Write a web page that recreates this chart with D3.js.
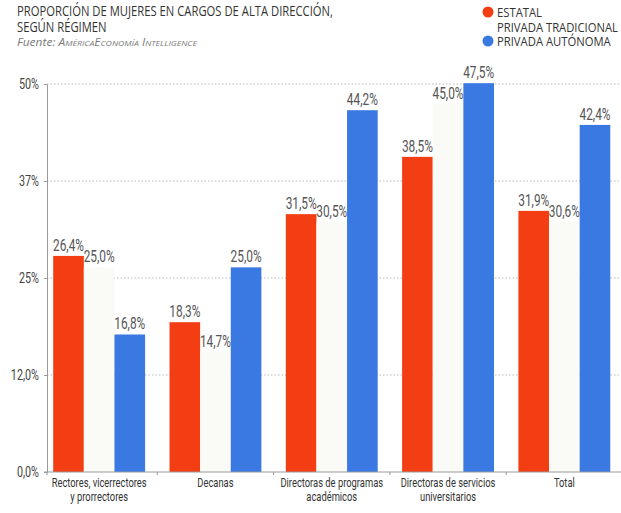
<!DOCTYPE html>
<html>
<head>
<meta charset="utf-8">
<script src="https://cdn.jsdelivr.net/npm/d3@7"></script>
<style>
  body { margin: 0; background: #fff; }
  svg { display: block; }
</style>
</head>
<body>
<script>
"use strict";
// values
const categories = ["Rectores, vicerrectores\ny prorrectores", "Decanas", "Directoras de programas\nacadémicos", "Directoras de servicios\nuniversitarios", "Total"]
const series = ["ESTATAL", "PRIVADA TRADICIONAL", "PRIVADA AUTÓNOMA"]
const estatal = [26.4, 18.3, 31.5, 38.5, 31.9]
const tradicional = [25.0, 14.7, 30.5, 45.0, 30.6]
const autonoma = [16.8, 25.0, 44.2, 47.5, 42.4]
const tickLabels = ["0,0%", "12,0%", "25%", "37%", "50%"]

const measurements = { width: 621, height: 513, left: 47, right: 621, top: 84, bottom: 472 }
const colors = ["#f23e12", "#fafaf7", "#3b79e2"]
const condensed = "Roboto, 'Liberation Sans', sans-serif"
const humanist = "'Open Sans', 'Noto Sans', sans-serif"

const svg = d3.select("body").append("svg")
    .attr("width", measurements.width)
    .attr("height", measurements.height)

// squeeze text horizontally so it looks like the narrow print face
function squeeze(sel, k) {
    sel.each(function() {
        const len = this.getComputedTextLength()
        d3.select(this).attr("textLength", len * k).attr("lengthAdjust", "spacingAndGlyphs")
    })
}
function factorFor(sel, target) {
    return target / sel.node().getComputedTextLength()
}

// title and source
const title = svg.append("g").attr("fill", "#333").style("font-family", humanist).style("font-size", "14px")
const t1 = title.append("text").attr("x", 17).attr("y", 16).text("PROPORCIÓN DE MUJERES EN CARGOS DE ALTA DIRECCIÓN,")
const kt = factorFor(t1, 316)
squeeze(t1, kt)
squeeze(title.append("text").attr("x", 17).attr("y", 32).text("SEGÚN RÉGIMEN"), kt)
const src = svg.append("text").attr("x", 17).attr("y", 46)
    .attr("fill", "#7a7a7a").style("font-family", humanist).style("font-size", "11px").style("font-style", "italic")
src.append("tspan").text("Fuente: ")
src.append("tspan").style("font-variant", "small-caps").text("AméricaEconomía Intelligence")
squeeze(src, factorFor(src, 180))

// legend
const legend = svg.append("g")
legend.selectAll("circle").data(series).enter().append("circle")
    .attr("cx", 488).attr("cy", (d, i) => 12 + i * 14.5).attr("r", 5.5)
    .attr("fill", (d, i) => i === 1 ? "#fff" : colors[i])
const legendText = legend.selectAll("text").data(series).enter().append("text")
    .attr("x", 497).attr("y", (d, i) => 17 + i * 14.5)
    .attr("fill", "#333").style("font-family", humanist).style("font-size", "13px")
    .text(d => d)
squeeze(legendText, factorFor(legendText.filter((d, i) => i === 1), 121))

// scales
const scaleX = d3.scaleBand().domain(categories).range([41, 622.5]).paddingInner(0.21).paddingOuter(0.105)
const scaleInner = d3.scaleBand().domain(series).range([0, scaleX.bandwidth()])
const scaleY = d3.scaleLinear().domain([0, 47.4]).range([measurements.bottom, measurements.top])
const scaleTick = d3.scalePoint().domain(tickLabels).range([measurements.bottom, measurements.top])

// dotted grid
svg.append("g").selectAll("line").data(tickLabels.slice(1)).enter().append("line")
    .attr("x1", measurements.left).attr("x2", measurements.right)
    .attr("y1", d => scaleTick(d)).attr("y2", d => scaleTick(d))
    .attr("stroke", "#b8b8b8").attr("stroke-width", 1).attr("stroke-dasharray", "1.5,2")

// bars
const rows = categories.map((c, i) => ({ cat: c, values: [estatal[i], tradicional[i], autonoma[i]] }))
const groups = svg.append("g").selectAll("g").data(rows).enter().append("g")
    .attr("transform", d => "translate(" + scaleX(d.cat) + ",0)")
groups.selectAll("rect").data(d => d.values.map((v, i) => ({ s: series[i], v: v, i: i }))).enter().append("rect")
    .attr("x", d => scaleInner(d.s))
    .attr("width", scaleInner.bandwidth())
    .attr("y", d => scaleY(d.v))
    .attr("height", d => measurements.bottom - scaleY(d.v))
    .attr("fill", d => colors[d.i])

// value labels
const valueText = groups.selectAll("text").data(d => d.values.map((v, i) => ({ s: series[i], v: v }))).enter().append("text")
    .attr("x", d => scaleInner(d.s) + scaleInner.bandwidth() / 2)
    .attr("y", d => scaleY(d.v) - 5)
    .attr("text-anchor", "middle")
    .attr("fill", "#555").style("font-family", condensed).style("font-size", "16px")
    .text(d => d.v.toFixed(1).replace(".", ",") + "%")
squeeze(valueText, factorFor(valueText, 31))

// y axis
const yAxis = d3.axisLeft(scaleTick).tickSize(3).tickSizeOuter(0).tickPadding(5)
const yG = svg.append("g").attr("transform", "translate(" + measurements.left + ",0)").call(yAxis)
yG.select(".domain").attr("stroke", "#9a9a9a")
yG.selectAll(".tick line").attr("stroke", "#9a9a9a")
const yText = yG.selectAll(".tick text").attr("fill", "#444").style("font-family", condensed).style("font-size", "14px")
squeeze(yText, factorFor(yText.filter(d => d === "50%"), 20))

// x axis: baseline, ticks between groups, two line labels
const xG = svg.append("g")
xG.append("line").attr("x1", measurements.left - 3).attr("x2", measurements.right)
    .attr("y1", measurements.bottom).attr("y2", measurements.bottom).attr("stroke", "#9a9a9a")
const gap = scaleX.step() * scaleX.paddingInner()
const bounds = [measurements.left].concat(categories.slice(0, -1).map(c => scaleX(c) + scaleX.bandwidth() + gap / 2))
xG.selectAll(".sep").data(bounds).enter().append("line").attr("class", "sep")
    .attr("x1", d => d).attr("x2", d => d)
    .attr("y1", measurements.bottom).attr("y2", measurements.bottom + 3).attr("stroke", "#9a9a9a")
const labelLines = []
categories.forEach(c => c.split("\n").forEach((line, j) => labelLines.push({ cat: c, line: line, j: j })))
const xText = xG.selectAll(".lab").data(labelLines).enter().append("text").attr("class", "lab")
    .attr("x", d => scaleX(d.cat) + scaleX.bandwidth() / 2)
    .attr("y", d => 487 + d.j * 14)
    .attr("text-anchor", "middle")
    .attr("fill", "#333").style("font-family", condensed).style("font-size", "13px")
    .text(d => d.line)
squeeze(xText, factorFor(xText, 95))
</script>
</body>
</html>
